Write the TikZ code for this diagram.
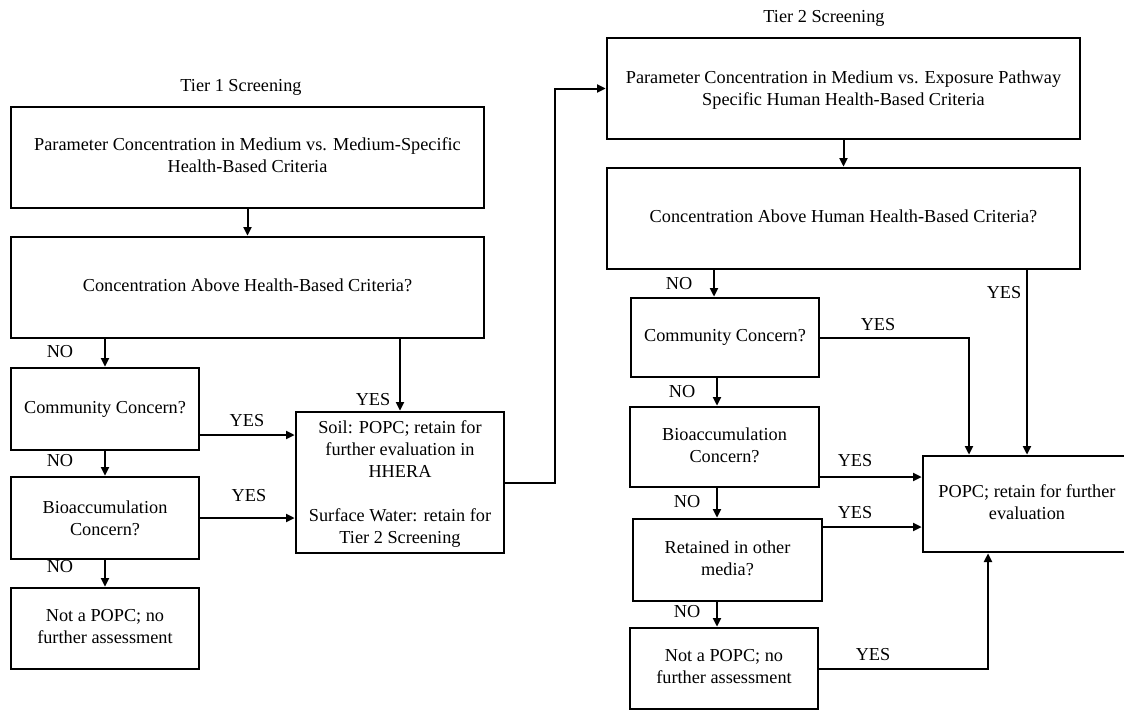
\documentclass[tikz,border=0pt]{standalone}
\usepackage{fontspec}
\setmainfont{Liberation Serif}
\usetikzlibrary{arrows.meta,fit}
\newcommand{\bx}[2][-3.5pt]{\raisebox{#1}[0pt][0pt]{\begin{tabular}{@{}c@{}}#2\end{tabular}}}
\begin{document}
\begin{tikzpicture}[x=0.75pt,y=-0.75pt,
  txt/.style={font=\fontsize{13.7}{16.5}\selectfont},
  box/.style={txt, draw, line width=2pt, inner sep=0pt},
  lbl/.style={txt, inner sep=0pt},
  conn/.style={line width=1.5pt},
  arr/.style={conn, -{Triangle[length=6.5pt,width=6pt]}}]
\useasboundingbox (0,0) rectangle (1124,711);
\clip (0,0) rectangle (1124,711);

% ---------- Tier 1 ----------
\node[lbl] (t1) at (241,87) {Tier 1 Screening};
\node[box, fit={(11,107) (484,208)}] (A1) {\bx{Parameter Concentration in Medium vs. Medium-Specific\\Health-Based Criteria}};
\node[box, fit={(11,237) (484,338)}] (A2) {\bx{Concentration Above Health-Based Criteria?}};
\node[box, fit={(11,368) (199,450)}] (CC1) {\bx{Community Concern?}};
\node[box, fit={(11,477) (199,559)}] (BC1) {\bx[-4.8pt]{Bioaccumulation\\Concern?}};
\node[box, fit={(11,588) (199,669)}] (N1) {\bx{Not a POPC; no\\further assessment}};
\node[box, fit={(296,412) (504,553)}] (S) {\bx[-4.5pt]{Soil: POPC; retain for\\further evaluation in\\HHERA\\[16.5pt]Surface Water: retain for\\Tier 2 Screening}};

% ---------- Tier 2 ----------
\node[lbl] (t2) at (824,18) {Tier 2 Screening};
\node[box, fit={(607,38) (1080,139)}] (B1) {\bx[-5pt]{Parameter Concentration in Medium vs. Exposure Pathway\\Specific Human Health-Based Criteria}};
\node[box, fit={(607,168) (1080,269)}] (B2) {\bx{Concentration Above Human Health-Based Criteria?}};
\node[box, fit={(631,298) (819,377)}] (CC2) {\bx{Community Concern?}};
\node[box, fit={(630,407) (819,487)}] (BC2) {\bx{Bioaccumulation\\Concern?}};
\node[box, fit={(633,519) (822,601)}] (RM) {\bx{Retained in other\\media?}};
\node[box, fit={(630,628) (818,709)}] (N2) {\bx{Not a POPC; no\\further assessment}};
\node[box, fit={(923,456) (1131,552)}] (P) {\bx{POPC; retain for further\\evaluation}};

% helper coordinates
\coordinate (yc1) at (0,435);
\coordinate (xn2) at (714,0);
\coordinate (xn3) at (717,0);
\coordinate (yb2) at (0,477);
\coordinate (yr) at (0,527);
\coordinate (xc2) at (969,0);
\coordinate (xn) at (988,0);
\coordinate (bend) at (555,482.5);

% ---------- Tier 1 connectors ----------
\draw[arr] (A1) -- (A2);
\draw[arr] (CC1.north |- A2.south) -- (CC1.north);
\draw[arr] (S.north |- A2.south) -- (S.north);
\draw[arr] (CC1.east |- yc1) -- (S.west |- yc1);
\draw[arr] (BC1.east) -- (BC1.east -| S.west);
\draw[arr] (CC1) -- (BC1);
\draw[arr] (BC1) -- (N1);
\draw[arr] (S.east) -- (bend) |- (B1.west);

\node[lbl] at (60,352) {NO};
\node[lbl] at (373,400) {YES};
\node[lbl] at (247,421) {YES};
\node[lbl] at (60,461) {NO};
\node[lbl] at (249,496) {YES};
\node[lbl] at (60,567) {NO};

% ---------- Tier 2 connectors ----------
\draw[arr] (B1) -- (B2);
\draw[arr] (xn2 |- B2.south) -- (xn2 |- CC2.north);
\draw[arr] (P.north |- B2.south) -- (P.north);
\draw[arr] (CC2.east) -| (xc2 |- P.north);
\draw[arr] (xn3 |- CC2.south) -- (xn3 |- BC2.north);
\draw[arr] (BC2.east |- yb2) -- (P.west |- yb2);
\draw[arr] (xn3 |- BC2.south) -- (xn3 |- RM.north);
\draw[arr] (RM.east |- yr) -- (P.west |- yr);
\draw[arr] (xn3 |- RM.south) -- (xn3 |- N2.north);
\draw[arr] (N2.east) -| (xn |- P.south);

\node[lbl] at (679,284) {NO};
\node[lbl] at (1004,293) {YES};
\node[lbl] at (878,325) {YES};
\node[lbl] at (682,392) {NO};
\node[lbl] at (855,461) {YES};
\node[lbl] at (687,502) {NO};
\node[lbl] at (855,513) {YES};
\node[lbl] at (687,612) {NO};
\node[lbl] at (873,655) {YES};
\end{tikzpicture}
\end{document}
